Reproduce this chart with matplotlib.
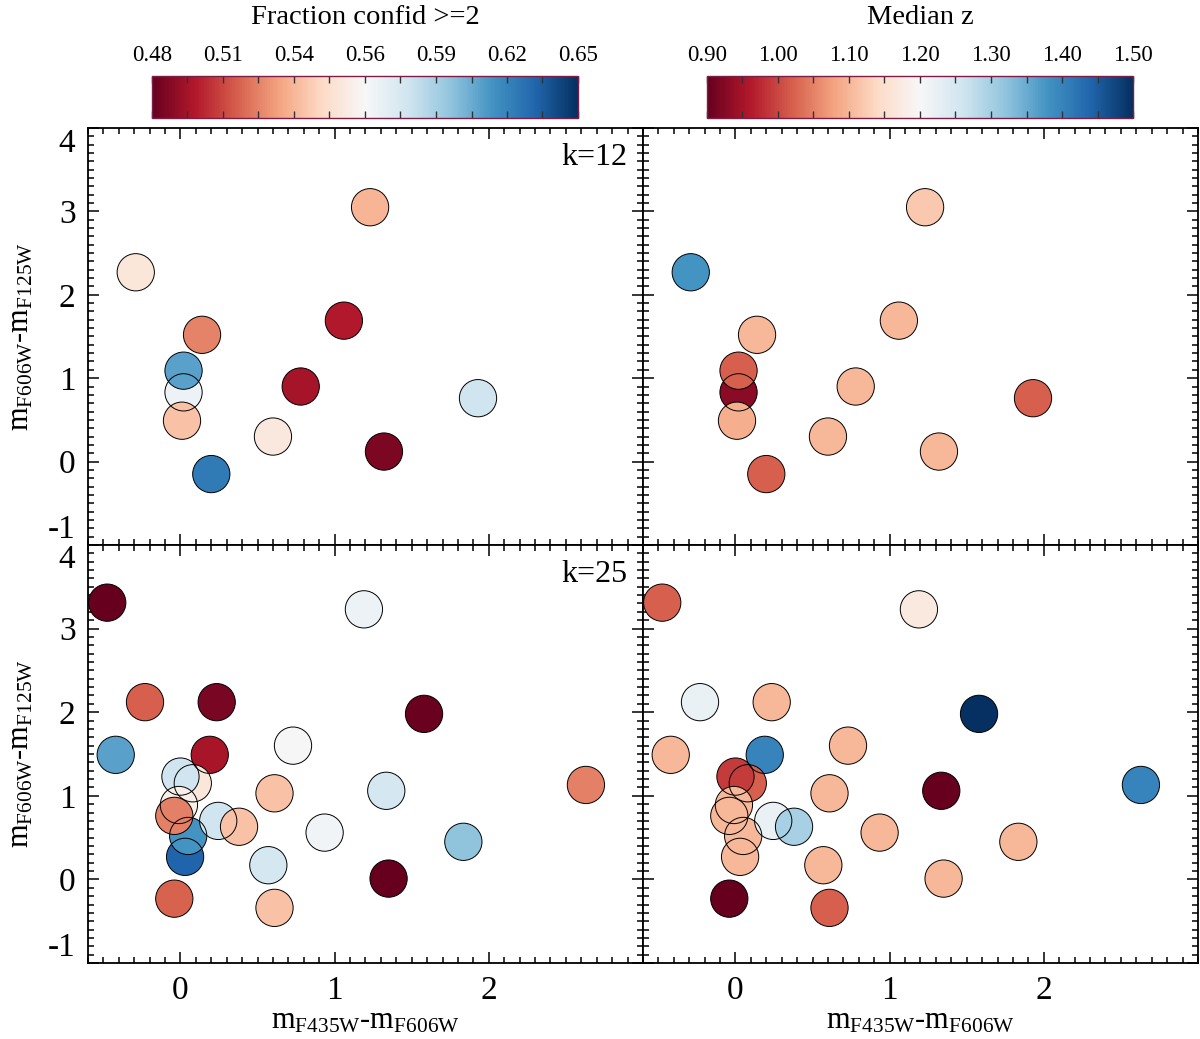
import numpy as np
import matplotlib
matplotlib.use('Agg')
import matplotlib.pyplot as plt
from matplotlib.ticker import MultipleLocator
from matplotlib.colors import Normalize
from matplotlib.cm import ScalarMappable

plt.rcParams['font.family'] = ['Liberation Serif', 'DejaVu Serif']
plt.rcParams['mathtext.fontset'] = 'custom'
plt.rcParams['mathtext.rm'] = 'Liberation Serif'
plt.rcParams['mathtext.default'] = 'rm'
plt.rcParams['axes.unicode_minus'] = False

# k=12 clusters
x12 = [1.23, -0.29, 0.14, 1.06, 0.02, 0.02, 0.01, 0.78, 1.93, 0.60, 1.32, 0.20]
y12 = [3.05, 2.27, 1.52, 1.69, 0.83, 1.09, 0.49, 0.90, 0.76, 0.30, 0.12, -0.15]
frac12 = [0.536, 0.555, 0.523, 0.497, 0.570, 0.611, 0.540, 0.494, 0.582, 0.556, 0.485, 0.625]
medz12 = [1.12, 1.38, 1.10, 1.10, 0.93, 1.02, 1.09, 1.10, 1.02, 1.10, 1.10, 1.02]

# k=25 clusters
x25 = [-0.475, 1.19, -0.23, 0.235, 1.58, -0.42, 0.73, 0.19, 0.08, 0.0, 0.03, 0.05, -0.01,
       -0.04, 0.245, 0.38, 0.61, 0.57, 0.61, -0.04, 0.935, 1.335, 1.35, 1.835, 2.63]
y25 = [3.31, 3.23, 2.12, 2.12, 1.98, 1.49, 1.60, 1.49, 1.15, 1.23, 0.27, 0.52, 0.89,
       0.76, 0.70, 0.63, 1.03, 0.17, -0.34, -0.23, 0.56, 1.06, 0.01, 0.45, 1.13]
frac25 = [0.480, 0.570, 0.514, 0.484, 0.481, 0.611, 0.565, 0.495, 0.555, 0.582, 0.633, 0.616, 0.560,
          0.522, 0.582, 0.540, 0.540, 0.580, 0.540, 0.515, 0.568, 0.580, 0.480, 0.599, 0.522]
medz25 = [1.02, 1.17, 1.22, 1.10, 1.50, 1.10, 1.10, 1.40, 1.02, 0.99, 1.10, 1.10, 1.10,
          1.10, 1.22, 1.30, 1.10, 1.10, 1.02, 0.90, 1.10, 0.90, 1.10, 1.10, 1.40]

frac_ticks = ['0.48', '0.51', '0.54', '0.56', '0.59', '0.62', '0.65']
medz_ticks = ['0.90', '1.00', '1.10', '1.20', '1.30', '1.40', '1.50']

frac_lim = (0.48, 0.65)
medz_lim = (0.90, 1.50)

fig = plt.figure(figsize=(12, 10.39), dpi=100)

W = 0.4625
lefts = [0.0733, 0.0733 + W]
rows = [(0.4755, 0.4013), (0.0731, 0.4024)]

panels = [
    (0, 0, x12, y12, frac12, frac_lim, 'k=12'),
    (0, 1, x12, y12, medz12, medz_lim, None),
    (1, 0, x25, y25, frac25, frac_lim, 'k=25'),
    (1, 1, x25, y25, medz25, medz_lim, None),
]

xlab = r'm$_{\mathrm{F435W}}$-m$_{\mathrm{F606W}}$'
ylab = r'm$_{\mathrm{F606W}}$-m$_{\mathrm{F125W}}$'

for r, c, x, y, v, lim, ktxt in panels:
    ax = fig.add_axes([lefts[c], rows[r][0], W, rows[r][1]])
    ax.scatter(x, y, c=v, cmap='RdBu', vmin=lim[0], vmax=lim[1], s=720,
               edgecolors='none', zorder=3)
    ax.scatter(x, y, s=720, facecolors='none', edgecolors='black',
               linewidths=0.7, zorder=4)
    ax.set_xlim(-0.6, 3.0)
    ax.set_ylim(-1, 4)
    ax.set_xticks([0, 1, 2])
    ax.set_yticks([-1, 0, 1, 2, 3, 4])
    ax.xaxis.set_minor_locator(MultipleLocator(0.1))
    ax.yaxis.set_minor_locator(MultipleLocator(0.1))
    ax.tick_params(which='both', direction='in', top=True, right=True,
                   width=1.1, labelsize=24, pad=9)
    ax.tick_params(which='major', length=8)
    ax.tick_params(which='minor', length=4)
    for sp in ax.spines.values():
        sp.set_linewidth(1.3)
    if r == 1:
        ax.set_xticklabels(['0', '1', '2'])
        ax.set_xlabel(xlab, fontsize=22, labelpad=0)
    else:
        ax.tick_params(labelbottom=False)
    if c == 0:
        labs = ax.set_yticklabels(['-1', '0', '1', '2', '3', '4'])
        labs[0].set_va('bottom')
        labs[-1].set_va('top')
        ax.set_ylabel(ylab, fontsize=22, labelpad=9)
    else:
        ax.tick_params(labelleft=False)
    if ktxt:
        ax.text(0.972, 0.965, ktxt, transform=ax.transAxes, ha='right', va='top',
                fontsize=23)

# colorbars
cb_specs = [
    (152 / 1200, frac_lim, frac_ticks, 'Fraction confid >=2'),
    (707 / 1200, medz_lim, medz_ticks, 'Median z'),
]
for left, lim, tlabs, title in cb_specs:
    cax = fig.add_axes([left, 1 - 118 / 1039, 426 / 1200, 42 / 1039])
    sm = ScalarMappable(norm=Normalize(lim[0], lim[1]), cmap='RdBu')
    cb = fig.colorbar(sm, cax=cax, orientation='horizontal')
    tv = np.linspace(lim[0], lim[1], len(tlabs))
    cb.set_ticks(tv)
    cb.set_ticklabels(tlabs)
    cax.set_xticks(np.linspace(lim[0], lim[1], 2 * len(tlabs) - 1), minor=True)
    cax.tick_params(axis='x', which='both', direction='in', top=True, bottom=True,
                    labeltop=True, labelbottom=False, length=5, width=1,
                    color='#333333', labelsize=16.5, pad=7)
    cb.outline.set_edgecolor('#7a2048')
    cb.outline.set_linewidth(1.0)
    fig.text(left + 213 / 1200, 1 - 18 / 1039, title, ha='center', va='center',
             fontsize=20.5)

fig.savefig('out.png', dpi=100)
